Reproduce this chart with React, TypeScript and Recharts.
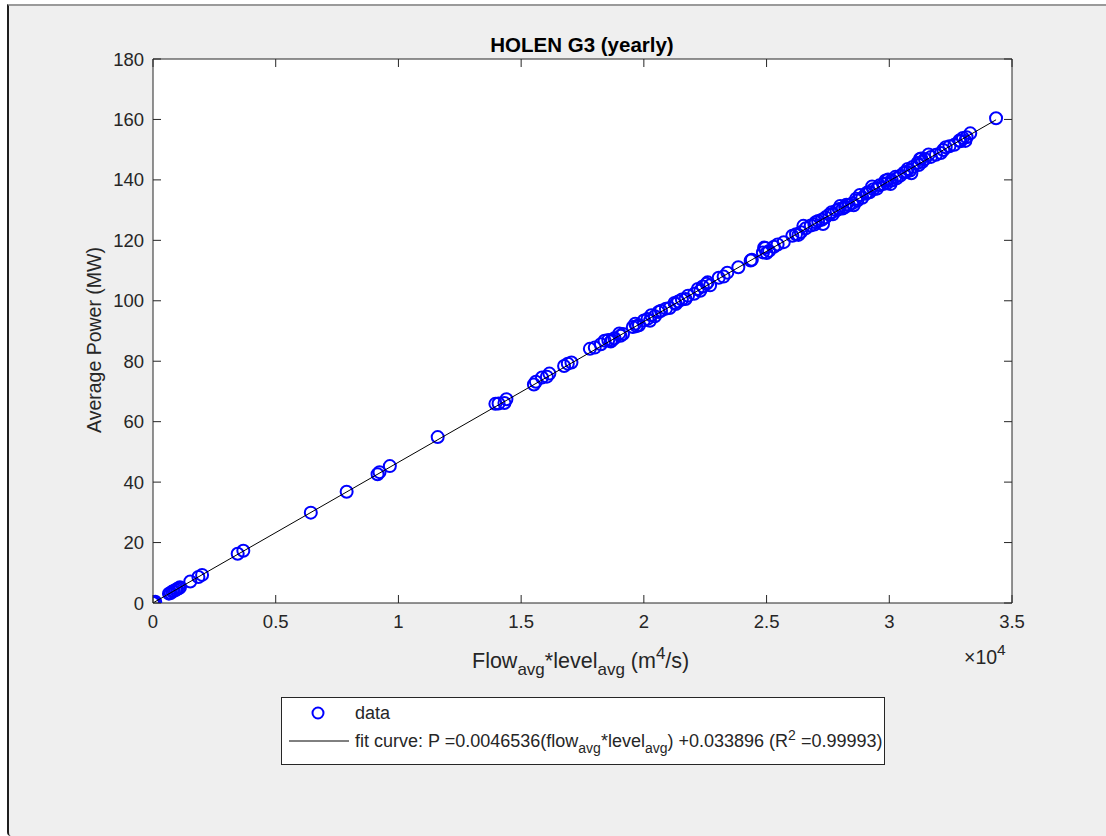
import {
  CartesianGrid,
  Scatter,
  ScatterChart,
  XAxis,
  YAxis,
} from "recharts";

// flow_avg * level_avg (m^4/s) and average power (MW), one entry per year
const flowLevel = [
  0, 20, 40, 90, 650, 720, 790, 850, 920, 980,
  1050, 1100, 1520, 1850, 2000, 3450, 3680, 6430, 7890, 9150,
  9230, 9650, 11600, 13950, 14080, 14320, 14400, 15520, 15600, 15850,
  16050, 16150, 16750, 16900, 17050, 17800, 18000, 18250, 18400, 18550,
  18650, 18700, 18800, 19050, 19150, 19550, 19650, 19700, 19800, 20000,
  20150, 20300, 20450, 20600, 20700, 20900, 21050, 21250, 21300, 21400,
  21550, 21800, 22050, 22200, 22300, 22400, 22550, 22700, 23050, 23250,
  23400, 23850, 24350, 24400, 24850, 24950, 25000, 25100, 25300, 25450,
  25700, 26050, 26200, 26300, 26400, 26600, 26800, 26950, 27000, 27100,
  27250, 27400, 27550, 27650, 27700, 27850, 27950, 28100, 28200, 28250,
  28350, 28500, 28650, 28700, 28800, 28900, 29050, 29100, 29200, 29350,
  29500, 29600, 29750, 29850, 29900, 29950, 30100, 30250, 30300, 30450,
  30600, 30700, 30750, 30850, 30950, 31150, 31200, 31250, 31350, 31450,
  31700, 31900, 32100, 32200, 32450, 32650, 32850, 32900, 33000, 33100,
  33150, 33300, 34350, 26500, 27300, 28000, 28550, 29300, 30050, 30900,
  31300, 31600, 32300, 24900, 22600, 21700, 20250, 19000,
];

const power = [
  0.1, 0.0, 0.2, 0.4, 3.1, 3.3, 3.8, 4.0, 4.3, 4.6,
  4.9, 5.2, 7.1, 8.6, 9.3, 16.3, 17.3, 29.9, 36.8, 42.6,
  43.3, 45.3, 54.9, 65.9, 66.0, 66.2, 67.4, 72.3, 73.2, 74.6,
  74.9, 75.9, 78.4, 79.2, 79.6, 84.1, 84.5, 85.6, 86.8, 87.0,
  86.5, 86.9, 87.6, 88.4, 89.0, 91.3, 92.4, 91.6, 91.9, 93.5,
  94.0, 95.2, 94.9, 96.3, 96.7, 97.4, 97.6, 99.3, 98.9, 99.8,
  100.4, 101.7, 102.3, 103.9, 103.3, 104.7, 105.6, 105.1, 107.6, 108.0,
  109.3, 111.1, 113.3, 113.6, 116.0, 117.5, 115.8, 116.5, 117.9, 118.6,
  119.4, 121.5, 122.0, 121.8, 122.7, 124.0, 124.9, 125.2, 126.0, 126.4,
  126.8, 127.6, 128.5, 129.3, 128.6, 129.9, 130.4, 130.5, 131.0, 131.8,
  131.7, 132.3, 133.8, 133.2, 135.0, 134.1, 135.4, 135.8, 135.9, 136.9,
  137.1, 138.2, 138.6, 139.8, 138.9, 140.1, 139.8, 141.0, 140.5, 141.4,
  142.4, 142.7, 143.6, 143.1, 144.3, 145.6, 144.9, 146.9, 146.0, 146.9,
  147.6, 148.3, 148.9, 149.9, 151.1, 151.6, 153.0, 152.8, 153.9, 152.9,
  154.1, 155.4, 160.4, 124.8, 125.4, 131.4, 131.6, 137.8, 138.6, 142.2,
  147.1, 148.4, 150.8, 117.6, 106.1, 100.6, 93.4, 89.2,
];

// fit curve end points: P = 0.0046536 * x + 0.033896
const fitX = [0, 34350];
const fitY = [0.034, 159.88];

const xTicks = [0, 5000, 10000, 15000, 20000, 25000, 30000, 35000];
const yTicks = [0, 20, 40, 60, 80, 100, 120, 140, 160, 180];

const points = flowLevel.map((x, i) => ({ x, y: power[i] }));
const fitLine = fitX.map((x, i) => ({ x, y: fitY[i] }));

const FONT = "'Liberation Sans', Arial, Helvetica, sans-serif";
const AXIS = "#262626";
const TICK_LEN = 8;
const GAP = 12;

function BottomTick(props: any) {
  const { x, y, payload } = props;
  const axisY = y - GAP;
  return (
    <g>
      <line x1={x} y1={axisY} x2={x} y2={axisY - TICK_LEN} stroke={AXIS} />
      <text x={x} y={y} dy="0.71em" textAnchor="middle" fill={AXIS} fontSize={18.5} fontFamily={FONT}>
        {String(payload.value / 10000)}
      </text>
    </g>
  );
}

function LeftTick(props: any) {
  const { x, y, payload } = props;
  const axisX = x + 9;
  return (
    <g>
      <line x1={axisX} y1={y} x2={axisX + TICK_LEN} y2={y} stroke={AXIS} />
      <text x={x} y={y} dy="0.355em" textAnchor="end" fill={AXIS} fontSize={18.5} fontFamily={FONT}>
        {payload.value}
      </text>
    </g>
  );
}

function TopTick(props: any) {
  const { x, y } = props;
  return <line x1={x} y1={y} x2={x} y2={y + TICK_LEN} stroke={AXIS} />;
}

function RightTick(props: any) {
  const { x, y } = props;
  return <line x1={x} y1={y} x2={x - TICK_LEN} y2={y} stroke={AXIS} />;
}

function Circle(props: any) {
  return <circle cx={props.cx} cy={props.cy} r={6} fill="none" stroke="#0000ff" strokeWidth={2} />;
}

export default function App() {
  return (
    <div
      style={{
        position: "absolute",
        left: 0,
        top: 0,
        width: 1106,
        height: 836,
        background: "#ffffff",
        overflow: "hidden",
        fontFamily: FONT,
      }}
    >
      <div
        style={{
          position: "absolute",
          left: 7,
          top: 4,
          right: 0,
          bottom: 0,
          background: "#efefef",
          borderLeft: "2px solid #1e1e1e",
          borderTop: "2px solid #9a9a9a",
          borderBottomLeftRadius: 4,
        }}
      />
      <div style={{ position: "absolute", left: 0, top: 0 }}>
        <ScatterChart
          width={1106}
          height={836}
          margin={{ top: 49, right: 84, bottom: 203, left: 93 }}
        >
          <CartesianGrid xAxisId="b" yAxisId="l" fill="#ffffff" horizontal={false} vertical={false} />
          <XAxis
            xAxisId="b"
            type="number"
            dataKey="x"
            domain={[0, 35000]}
            ticks={xTicks}
            height={30}
            allowDataOverflow
            axisLine={{ stroke: AXIS }}
            tickLine={false}
            tickSize={0}
            tickMargin={GAP}
            tick={<BottomTick />}
          />
          <XAxis
            xAxisId="t"
            orientation="top"
            type="number"
            dataKey="x"
            domain={[0, 35000]}
            ticks={xTicks}
            height={10}
            allowDataOverflow
            axisLine={{ stroke: AXIS }}
            tickLine={false}
            tickSize={0}
            tickMargin={0}
            tick={<TopTick />}
          />
          <YAxis
            yAxisId="l"
            type="number"
            dataKey="y"
            domain={[0, 180]}
            ticks={yTicks}
            width={60}
            allowDataOverflow
            axisLine={{ stroke: AXIS }}
            tickLine={false}
            tickSize={0}
            tickMargin={9}
            tick={<LeftTick />}
          />
          <YAxis
            yAxisId="r"
            orientation="right"
            type="number"
            dataKey="y"
            domain={[0, 180]}
            ticks={yTicks}
            width={10}
            allowDataOverflow
            axisLine={{ stroke: AXIS }}
            tickLine={false}
            tickSize={0}
            tickMargin={0}
            tick={<RightTick />}
          />
          <Scatter
            xAxisId="b"
            yAxisId="l"
            data={points}
            shape={<Circle />}
            isAnimationActive={false}
          />
          <Scatter
            xAxisId="b"
            yAxisId="l"
            data={fitLine}
            line={{ stroke: "#000000", strokeWidth: 1 }}
            shape={() => <g />}
            isAnimationActive={false}
          />
        </ScatterChart>
      </div>
      <svg
        width={1106}
        height={836}
        style={{ position: "absolute", left: 0, top: 0, pointerEvents: "none" }}
        fontFamily={FONT}
      >
        <text x={582} y={52} textAnchor="middle" fontSize={20.5} fontWeight="bold" fill="#000">
          HOLEN G3 (yearly)
        </text>
        <text
          x={0}
          y={0}
          transform="translate(101,340) rotate(-90)"
          textAnchor="middle"
          fontSize={19.5}
          fill={AXIS}
        >
          Average Power (MW)
        </text>
        <text x={472} y={668} fontSize={21.5} fill={AXIS}>
          Flow
          <tspan dy={7} fontSize={17}>avg</tspan>
          <tspan dy={-7}>*level</tspan>
          <tspan dy={7} fontSize={17}>avg</tspan>
          <tspan dy={-7}> (m</tspan>
          <tspan dy={-9} fontSize={17}>4</tspan>
          <tspan dy={9}>/s)</tspan>
        </text>
        <text x={964} y={664} fontSize={19.5} fill={AXIS}>
          ×10
          <tspan dy={-9} fontSize={15.5}>4</tspan>
        </text>
        <rect x={281.5} y={697.5} width={603} height={67} fill="#ffffff" stroke={AXIS} />
        <circle cx={318} cy={713} r={5.5} fill="none" stroke="#0000ff" strokeWidth={2} />
        <text x={355} y={719} fontSize={18} fill={AXIS}>data</text>
        <line x1={289} y1={741} x2={349} y2={741} stroke="#000" strokeWidth={1} />
        <text x={355} y={747} fontSize={18} fill={AXIS}>
          fit curve: P =0.0046536(flow
          <tspan dy={6} fontSize={14}>avg</tspan>
          <tspan dy={-6}>*level</tspan>
          <tspan dy={6} fontSize={14}>avg</tspan>
          <tspan dy={-6}>) +0.033896 (R</tspan>
          <tspan dy={-7} fontSize={14}>2</tspan>
          <tspan dy={7}> =0.99993)</tspan>
        </text>
      </svg>
    </div>
  );
}
